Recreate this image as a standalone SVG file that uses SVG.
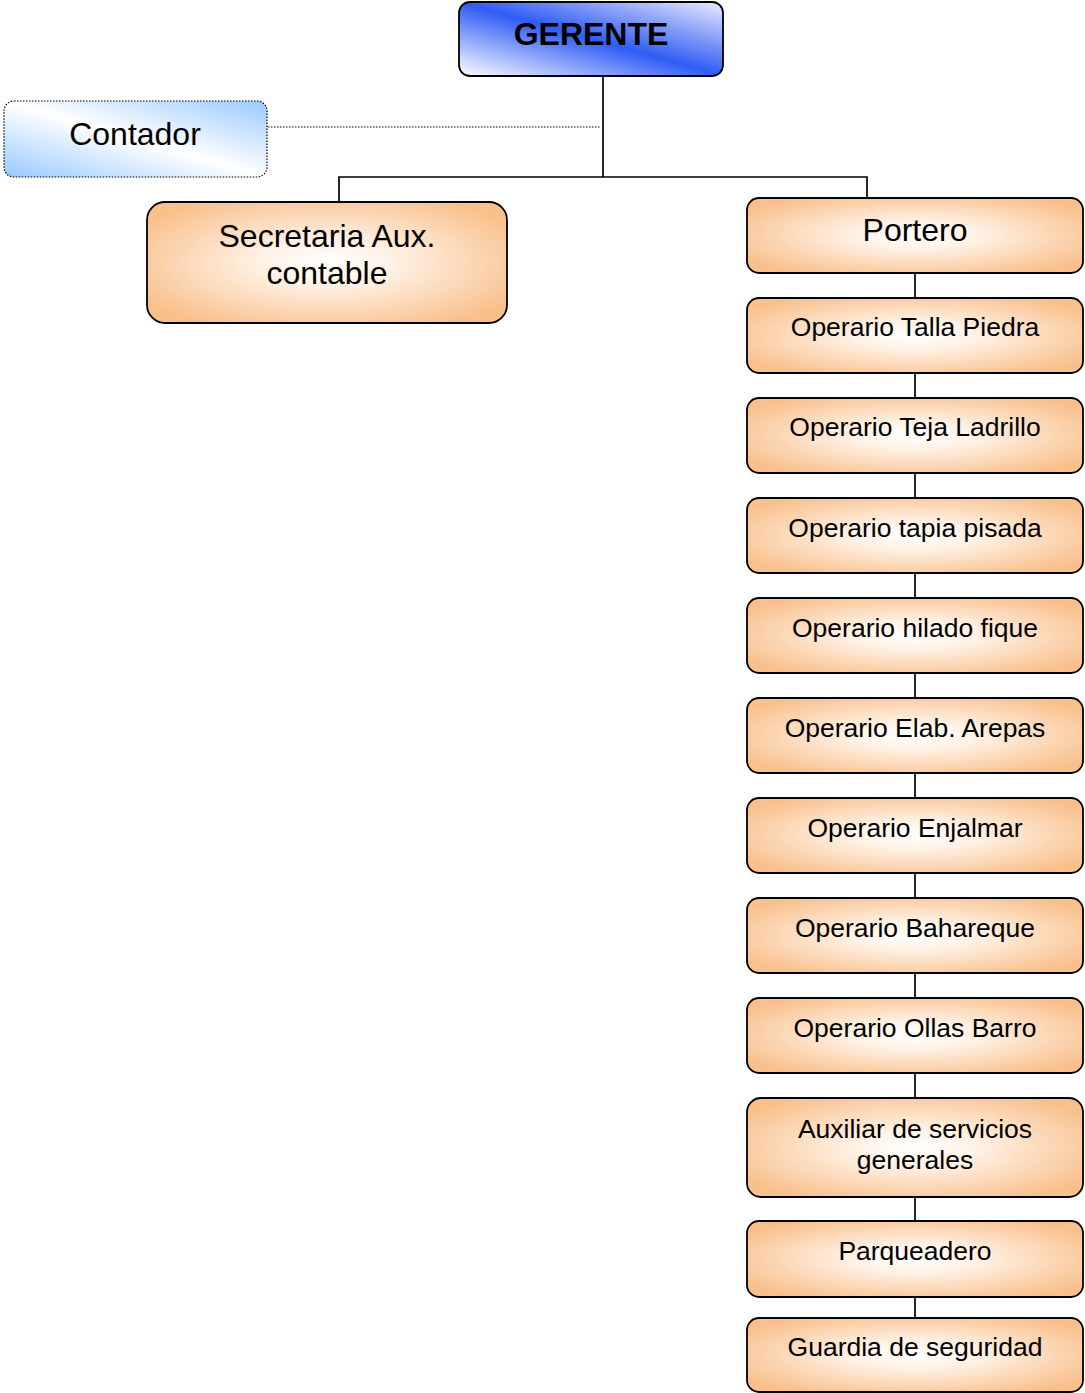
<svg xmlns="http://www.w3.org/2000/svg" width="1085" height="1393" viewBox="0 0 1085 1393">
<style>
.box{stroke:#000;stroke-width:1.8;fill:url(#peach)}
.t{font-family:"Liberation Sans",Arial,sans-serif;fill:#000;text-anchor:middle}
.big{font-size:32px}
.mid{font-size:26.5px}
.conn{stroke:#000;stroke-width:1.7;fill:none}
</style>
<defs>
<radialGradient id="peach" cx="0.5" cy="0.5" r="0.6">
<stop offset="0" stop-color="#ffffff"/>
<stop offset="0.3" stop-color="#fff2e6"/>
<stop offset="1" stop-color="#f9c08c"/>
</radialGradient>
<linearGradient id="blue" x1="1" y1="0" x2="0" y2="1">
<stop offset="0" stop-color="#ecebff"/>
<stop offset="0.5" stop-color="#2f5cf4"/>
<stop offset="1" stop-color="#ffffff"/>
</linearGradient>
<linearGradient id="lblue" x1="0" y1="1" x2="1" y2="0">
<stop offset="0" stop-color="#99c9ff"/>
<stop offset="0.5" stop-color="#ffffff"/>
<stop offset="1" stop-color="#99c9ff"/>
</linearGradient>
</defs>
<g id="connectors">
<path class="conn" d="M603 76V177M339 202V177H867V198"/>
<path d="M268 127H601" stroke="#000" stroke-width="1" stroke-dasharray="1.5 1.5" fill="none"/>
<path class="conn" d="M915 273V298M915 373V398M915 473V498M915 573V598M915 673V698M915 773V798M915 873V898M915 973V998M915 1073V1098M915 1197V1221M915 1297V1318"/>
</g>
<g id="gerente">
<rect x="459" y="2" width="264" height="74" rx="11" fill="url(#blue)" stroke="#000" stroke-width="1.8"/>
<text class="t" x="591" y="45" font-size="32" font-weight="bold">GERENTE</text>
</g>
<g id="contador">
<rect x="4" y="101" width="263" height="76" rx="10" fill="url(#lblue)" stroke="#000" stroke-width="1.2" stroke-dasharray="1.5 1.5"/>
<text class="t big" x="135" y="145">Contador</text>
</g>
<g id="secretaria">
<rect class="box" x="147" y="202" width="360" height="121" rx="18"/>
<text class="t big" x="327" y="247">Secretaria Aux.</text>
<text class="t big" x="327" y="284">contable</text>
</g>
<g id="portero">
<rect class="box" x="747" y="198" width="336" height="75" rx="12"/>
<text class="t big" x="915" y="241">Portero</text>
</g>
<g id="talla"><rect class="box" x="747" y="298" width="336" height="75" rx="12"/><text class="t mid" x="915" y="336">Operario Talla Piedra</text></g>
<g id="teja"><rect class="box" x="747" y="398" width="336" height="75" rx="12"/><text class="t mid" x="915" y="436">Operario Teja Ladrillo</text></g>
<g id="tapia"><rect class="box" x="747" y="498" width="336" height="75" rx="12"/><text class="t mid" x="915" y="537">Operario tapia pisada</text></g>
<g id="hilado"><rect class="box" x="747" y="598" width="336" height="75" rx="12"/><text class="t mid" x="915" y="637">Operario hilado fique</text></g>
<g id="arepas"><rect class="box" x="747" y="698" width="336" height="75" rx="12"/><text class="t mid" x="915" y="737">Operario Elab. Arepas</text></g>
<g id="enjalmar"><rect class="box" x="747" y="798" width="336" height="75" rx="12"/><text class="t mid" x="915" y="837">Operario Enjalmar</text></g>
<g id="bahareque"><rect class="box" x="747" y="898" width="336" height="75" rx="12"/><text class="t mid" x="915" y="937">Operario Bahareque</text></g>
<g id="ollas"><rect class="box" x="747" y="998" width="336" height="75" rx="12"/><text class="t mid" x="915" y="1037">Operario Ollas Barro</text></g>
<g id="auxiliar"><rect class="box" x="747" y="1098" width="336" height="99" rx="14"/><text class="t mid" x="915" y="1138">Auxiliar de servicios</text><text class="t mid" x="915" y="1169">generales</text></g>
<g id="parqueadero"><rect class="box" x="747" y="1221" width="336" height="76" rx="12"/><text class="t mid" x="915" y="1260">Parqueadero</text></g>
<g id="guardia"><rect class="box" x="747" y="1318" width="336" height="74" rx="12"/><text class="t mid" x="915" y="1356">Guardia de seguridad</text></g>
</svg>
